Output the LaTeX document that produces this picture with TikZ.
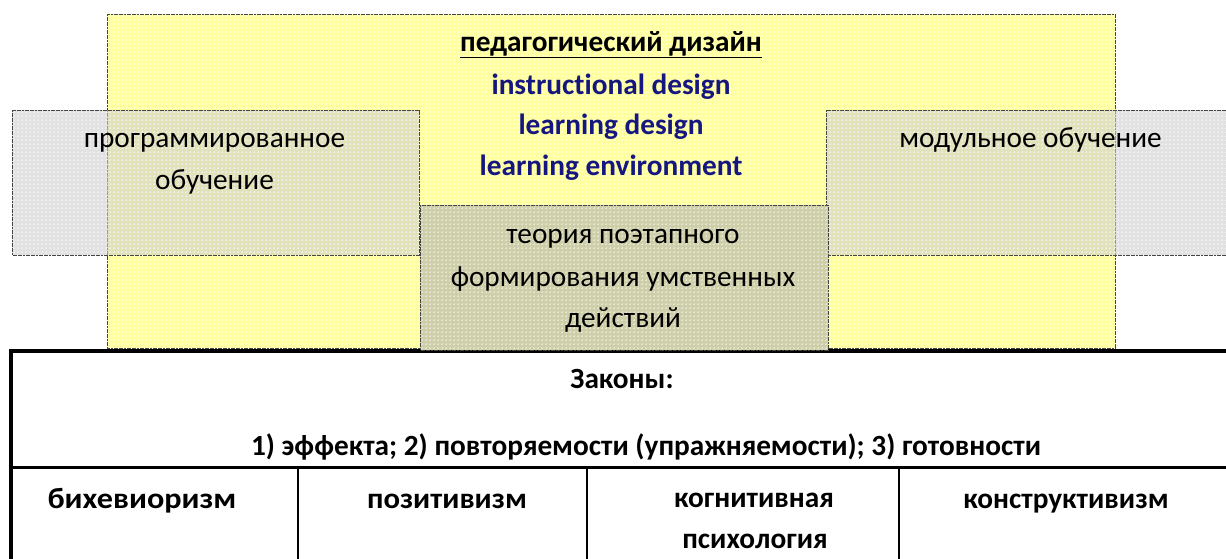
\documentclass[tikz,border=0pt]{standalone}
\usepackage{fontspec}
\setmainfont{Carlito}[Ligatures=NoCommon]
\usetikzlibrary{patterns}
\definecolor{padyellow}{RGB}{255,255,158}
\definecolor{padgrey}{RGB}{206,206,206}
\definecolor{midbox}{RGB}{206,206,168}
\definecolor{framegrey}{RGB}{70,70,70}
\definecolor{termblue}{RGB}{22,22,128}
% small white crosses that give the fills their woven look
\pgfdeclarepatternformonly{softcross}{\pgfqpoint{-1pt}{-1pt}}{\pgfqpoint{5pt}{5pt}}{\pgfqpoint{4pt}{4pt}}{%
  \pgfsetlinewidth{0.7pt}%
  \pgfpathmoveto{\pgfqpoint{1pt}{2pt}}\pgfpathlineto{\pgfqpoint{3pt}{2pt}}%
  \pgfpathmoveto{\pgfqpoint{2pt}{1pt}}\pgfpathlineto{\pgfqpoint{2pt}{3pt}}%
  \pgfusepath{stroke}}
\begin{document}
\begin{tikzpicture}[x=1pt,y=-1pt,
  area/.style={draw=framegrey,line width=1pt,dash pattern=on 2pt off 0.6pt},
  weave/.style={pattern=softcross,pattern color=white,opacity=0.45},
  boxline/.style={anchor=base,inner sep=0pt,font=\fontsize{29.3}{35}\selectfont},
  lawline/.style={anchor=base,inner sep=0pt,font=\bfseries\fontsize{29.3}{35}\selectfont},
  termline/.style={anchor=base,inner sep=0pt,font=\bfseries\fontsize{29.3}{35}\selectfont,text=termblue},
  rule/.style={line width=3.4pt,black},
  colrule/.style={line width=2.4pt,black}]
\useasboundingbox (0,0) rectangle (1226,558);

% large yellow field: pedagogical design
\fill[padyellow] (107,14) rectangle (1115,348);
\fill[weave] (107,14) rectangle (1115,348);
\draw[area] (107,14) rectangle (1115,348);

% table of laws and schools
\coordinate (tl) at (11,351);
\coordinate (tr) at (1226,351);
\coordinate (ml) at (11,467.5);
\coordinate (mr) at (1226,467.5);
\coordinate (bl) at (11,560);
\draw[rule] (tr) -- (tl) -- (bl);
\draw[rule] (ml) -- (mr);
\foreach \cx [count=\i] in {298,587,899}{
  \coordinate (ct\i) at (\cx,467.5);
  \coordinate (cb\i) at (\cx,560);
  \draw[colrule] (ct\i) -- (cb\i);
}

% side boxes, translucent over the yellow field
\fill[padgrey,opacity=0.6] (12,110) rectangle (419,255);
\fill[weave] (12,110) rectangle (419,255);
\draw[area] (12,110) rectangle (419,255);
\fill[padgrey,opacity=0.6] (826,110) rectangle (1240,255);
\fill[weave] (826,110) rectangle (1240,255);
\draw[area] (826,110) rectangle (1240,255);

% central box
\fill[midbox] (420,205) rectangle (828,350);
\fill[weave] (420,205) rectangle (828,350);
\draw[area] (420,205) rectangle (828,350);

% titles inside the yellow field
\node[lawline] (ped) at (611,51) {\underline{педагогический дизайн}};
\node[termline] (instr) at (611,94) {instructional design};
\node[termline] (learn) at (611,134) {learning design};
\node[termline] (env) at (611,175) {learning environment};

% box captions
\node[boxline] (prog1) at (214.5,147) {программированное};
\node[boxline] (prog2) at (214.5,189) {обучение};
\node[boxline] (mod) at (1030.5,147) {модульное обучение};
\node[boxline] (stage1) at (623,243) {теория поэтапного};
\node[boxline] (stage2) at (623,286) {формирования умственных};
\node[boxline] (stage3) at (623,327) {действий};

% laws
\node[lawline] (laws) at (622,388) {Законы:};
\node[lawline] (lawlist) at (646,455) {1) эффекта; 2) повторяемости (упражняемости); 3) готовности};

% schools
\node[lawline] (beh) at (142,508) {\scalebox{1.1}[1]{бихевиоризм}};
\node[lawline] (pos) at (447,508) {\scalebox{1.05}[1]{позитивизм}};
\node[lawline] (cog1) at (754,507) {когнитивная};
\node[lawline] (cog2) at (755,548) {психология};
\node[lawline] (con) at (1066,508) {конструктивизм};
\end{tikzpicture}
\end{document}
